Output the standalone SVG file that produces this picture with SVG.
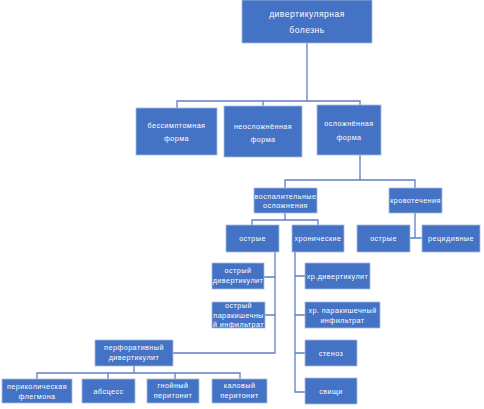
<svg xmlns="http://www.w3.org/2000/svg" width="484" height="409" viewBox="0 0 484 409">
<style>
.b{fill:#4472C4;stroke:#A9BDE3;stroke-width:0.8}
.t{fill:#fff;font-family:"Liberation Sans",Arial,sans-serif;font-size:7.2px;letter-spacing:0.45px;text-anchor:middle}
.r{font-size:8.5px;letter-spacing:0.5px}
.c{fill:none;stroke:#5F80C4;stroke-width:1.3}
</style>
<rect width="484" height="409" fill="#fff"/>
<g id="connectors">
<path class="c" d="M307,43 V101 M177,108 V101 H360 V105 M263,101 V106"/>
<path class="c" d="M360,155 V180 M285,188 V180 H415 V188"/>
<path class="c" d="M285,213 V220 M252,225 V220 H318 V225"/>
<path class="c" d="M415,213 V238 M410,238 H422"/>
<path class="c" d="M275,252 V353 H173 M264,277 H275 M265,315 H275"/>
<path class="c" d="M295,252 V392 H305 M295,276 H305 M295,315 H305 M295,353 H305"/>
<path class="c" d="M134,366 V373 M37,379 V373 H240 V379 M108,373 V379 M175,373 V379"/>
</g>
<g id="root"><rect class="b" x="242" y="0" width="130" height="43"/><text class="t r" x="307" y="17">дивертикулярная</text><text class="t r" x="307" y="33">болезнь</text></g>
<g id="asym"><rect class="b" x="136" y="108" width="81" height="47"/><text class="t" x="176.5" y="128">бессимптомная</text><text class="t" x="176.5" y="141">форма</text></g>
<g id="uncomp"><rect class="b" x="224" y="106" width="78" height="51"/><text class="t" x="263" y="129">неосложнённая</text><text class="t" x="263" y="142">форма</text></g>
<g id="comp"><rect class="b" x="317" y="105" width="64" height="50"/><text class="t" x="349" y="126">осложнённая</text><text class="t" x="349" y="140">форма</text></g>
<g id="inflam"><rect class="b" x="254" y="188" width="63" height="25"/><text class="t" x="285.5" y="198.5">воспалительные</text><text class="t" x="285.5" y="207.5">осложнения</text></g>
<g id="bleed"><rect class="b" x="389" y="188" width="53" height="25"/><text class="t" x="415.5" y="203">кровотечения</text></g>
<g id="acute1"><rect class="b" x="226" y="225" width="53" height="27"/><text class="t" x="252.5" y="241">острые</text></g>
<g id="chronic"><rect class="b" x="292" y="225" width="52" height="27"/><text class="t" x="318" y="241">хронические</text></g>
<g id="acute2"><rect class="b" x="357" y="225" width="53" height="27"/><text class="t" x="383.5" y="241">острые</text></g>
<g id="recur"><rect class="b" x="422" y="225" width="58" height="27"/><text class="t" x="451" y="241">рецидивные</text></g>
<g id="acdiv"><rect class="b" x="212" y="263" width="52" height="26"/><text class="t" x="238" y="273">острый</text><text class="t" x="238" y="283">дивертикулит</text></g>
<g id="acinf"><rect class="b" x="212" y="302" width="53" height="26"/><text class="t" x="238.5" y="308">острый</text><text class="t" x="238.5" y="317.5">паракишечны</text><text class="t" x="238.5" y="326.5">й инфильтрат</text></g>
<g id="chdiv"><rect class="b" x="305" y="263" width="65" height="26"/><text class="t" x="337.5" y="279">хр.дивертикулит</text></g>
<g id="chinf"><rect class="b" x="305" y="302" width="75" height="26"/><text class="t" x="342.5" y="313">хр. паракишечный</text><text class="t" x="342.5" y="323">инфильтрат</text></g>
<g id="stenosis"><rect class="b" x="305" y="340" width="52" height="26"/><text class="t" x="331" y="356">стеноз</text></g>
<g id="fistula"><rect class="b" x="305" y="378" width="52" height="26"/><text class="t" x="331" y="394">свищи</text></g>
<g id="perf"><rect class="b" x="95" y="340" width="78" height="26"/><text class="t" x="134" y="350">перфоративный</text><text class="t" x="134" y="360">дивертикулит</text></g>
<g id="phleg"><rect class="b" x="2" y="379" width="70" height="24"/><text class="t" x="37" y="389">периколическая</text><text class="t" x="37" y="398.5">флегмона</text></g>
<g id="abscess"><rect class="b" x="82" y="379" width="53" height="24"/><text class="t" x="108.5" y="394">абсцесс</text></g>
<g id="purulent"><rect class="b" x="147" y="379" width="52" height="24"/><text class="t" x="173" y="388">гнойный</text><text class="t" x="173" y="398">перитонит</text></g>
<g id="fecal"><rect class="b" x="212" y="379" width="55" height="24"/><text class="t" x="239.5" y="388">каловый</text><text class="t" x="239.5" y="398">перитонит</text></g>
</svg>
